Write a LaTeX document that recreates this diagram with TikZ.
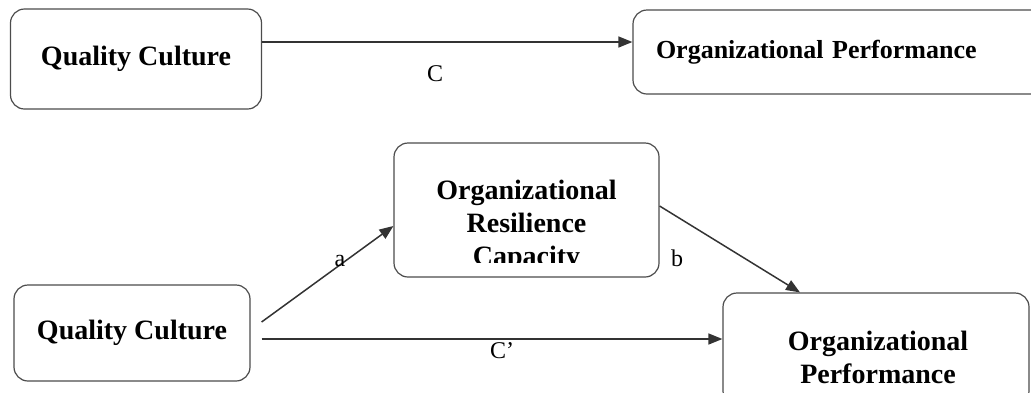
\documentclass[tikz,border=0pt]{standalone}
\usepackage{fontspec}
\setmainfont{Liberation Serif}
\usetikzlibrary{arrows.meta}
\begin{document}
\begin{tikzpicture}[
        x=1pt, y=1pt,
        box/.style={draw=black!70, line width=1.2pt, rounded corners=14pt, inner sep=0pt},
        title/.style={font=\fontsize{28}{33}\selectfont\bfseries, align=center},
        path/.style={draw=black!80, line width=1.5pt, -{Triangle[length=14pt,width=11pt]}},
        lbl/.style={font=\fontsize{24}{26}\selectfont},
    ]
    \useasboundingbox (0,0) rectangle (1031,-392);
    \node[box, title, minimum width=251pt, minimum height=100pt](qc1) at (136,-59){Quality Culture};
    \node[box, font=\fontsize{26}{30}\selectfont\bfseries, text width=366pt, align=left,
        minimum width=412pt, minimum height=84pt](op1) at (839,-52){Organizational Performance};
    \node[box, minimum width=265pt, minimum height=134pt](orc) at (526.5,-210){};
    \begin{scope}
        \clip (orc.north west) rectangle (659,-262);
        \node[title](orctext) at (526.5,-226){Organizational\\Resilience\\Capacity};
    \end{scope}
    \node[box, title, minimum width=236pt, minimum height=96pt](qc2) at (132,-333){Quality Culture};
    \node[box, minimum width=306pt, minimum height=112pt](op2) at (876,-349){};
    \node[title](op2text) at (878,-357){Organizational\\Performance};
    \draw[path] (qc1.east |- 0,-42) -- (op1.west |- 0,-42);
    \draw[path] ([xshift=11pt]qc2.east |- 0,-322) -- (orc.west |- 0,-226);
    \draw[path] (orc.east |- 0,-206) -- (op2.north -| 800,0);
    \draw[path] ([xshift=11pt]qc2.east |- 0,-339) -- (op2.west |- 0,-339);
    \node[lbl](c) at (435,-74){C};
    \node[lbl](a) at (340,-261){a};
    \node[lbl](b) at (677,-258){b};
    \node[lbl](cp) at (502,-351){C’};
\end{tikzpicture}
\end{document}
